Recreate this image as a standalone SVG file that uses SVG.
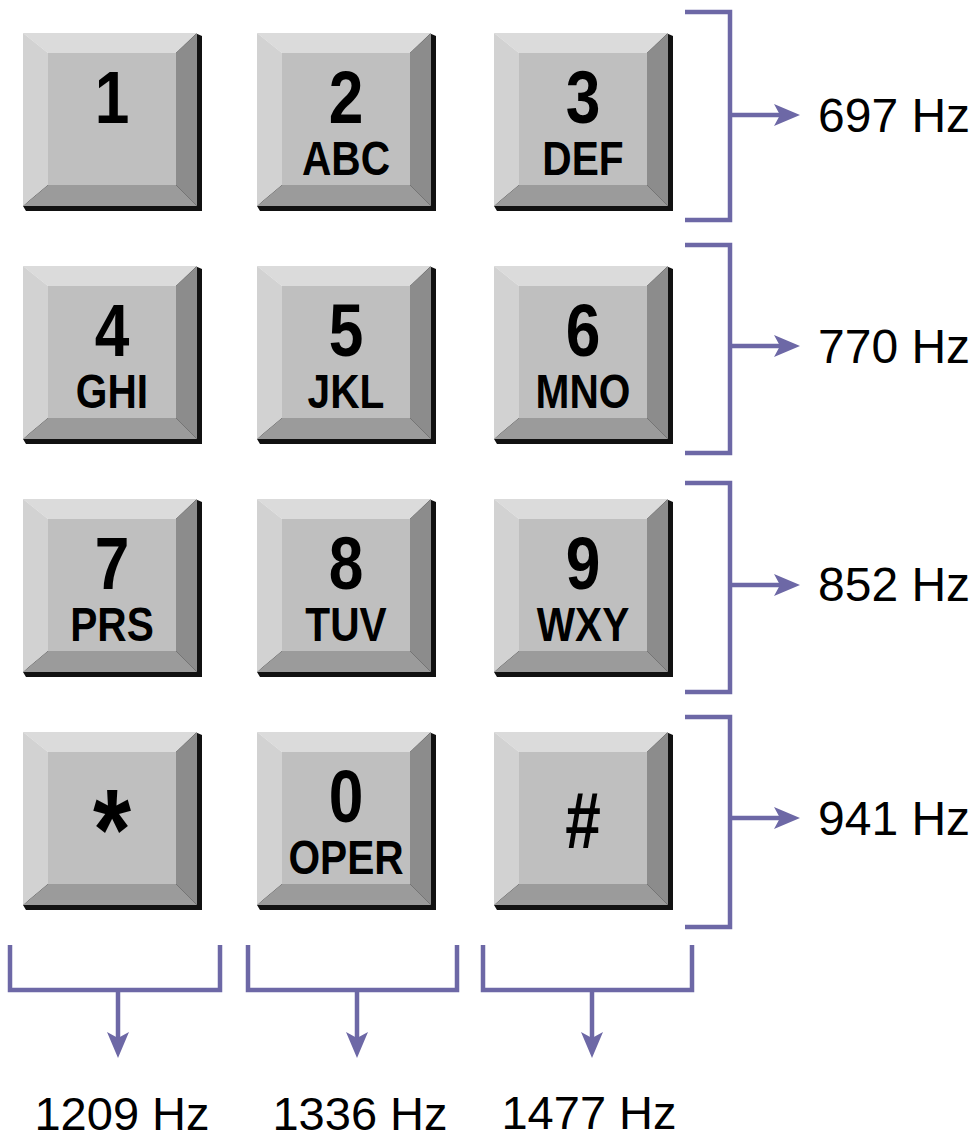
<svg xmlns="http://www.w3.org/2000/svg" xmlns:xlink="http://www.w3.org/1999/xlink" width="980" height="1141" viewBox="0 0 980 1141">
<style>
.k{font-family:"Liberation Sans",Arial,sans-serif;font-weight:bold;fill:#000;text-anchor:middle}
.d{font-size:75px}
.l{font-size:49px}
.hz{font-family:"Liberation Sans",Arial,sans-serif;font-size:48px;fill:#000}
.hzb{font-family:"Liberation Sans",Arial,sans-serif;font-size:47px;fill:#000;text-anchor:middle}
.br{fill:none;stroke:#6d68a6;stroke-width:4.5;stroke-linejoin:miter}
.ar{fill:none;stroke:#6d68a6;stroke-width:4.5;marker-end:url(#ah)}
</style>
<defs>
<marker id="ah" markerUnits="userSpaceOnUse" viewBox="-12 -12 28 24" refX="0" refY="0" markerWidth="28" markerHeight="24" orient="auto">
<path d="M15,0 L-11,-11 L-5,0 L-11,11 Z" fill="#6d68a6"/>
</marker>
<g id="key">
<polygon points="172,0 179,3 179,178 3,178 0,173" fill="#111"/>
<polygon points="0,0 174,0 153,20 25,20" fill="#dbdbdb"/>
<polygon points="0,0 25,20 25,152 0,173" fill="#d2d2d2"/>
<polygon points="174,0 174,173 153,152 153,20" fill="#8c8c8c"/>
<polygon points="0,173 174,173 153,152 25,152" fill="#9b9b9b"/>
<rect x="25" y="20" width="128" height="132" fill="#bfbfbf"/>
</g>
</defs>
<rect width="980" height="1141" fill="#fff"/>

<g id="key-1"><use xlink:href="#key" x="23" y="33"/><text class="k" transform="translate(112,0) scale(0.83,1)"><tspan class="d" x="0" y="123">1</tspan></text></g>
<g id="key-2"><use xlink:href="#key" x="257" y="33"/><text class="k" transform="translate(346,0) scale(0.83,1)"><tspan class="d" x="0" y="123">2</tspan><tspan class="l" x="0" y="175">ABC</tspan></text></g>
<g id="key-3"><use xlink:href="#key" x="494" y="33"/><text class="k" transform="translate(583,0) scale(0.83,1)"><tspan class="d" x="0" y="123">3</tspan><tspan class="l" x="0" y="175">DEF</tspan></text></g>

<g id="key-4"><use xlink:href="#key" x="23" y="266"/><text class="k" transform="translate(112,0) scale(0.83,1)"><tspan class="d" x="0" y="356">4</tspan><tspan class="l" x="0" y="408">GHI</tspan></text></g>
<g id="key-5"><use xlink:href="#key" x="257" y="266"/><text class="k" transform="translate(346,0) scale(0.83,1)"><tspan class="d" x="0" y="356">5</tspan><tspan class="l" x="0" y="408">JKL</tspan></text></g>
<g id="key-6"><use xlink:href="#key" x="494" y="266"/><text class="k" transform="translate(583,0) scale(0.83,1)"><tspan class="d" x="0" y="356">6</tspan><tspan class="l" x="0" y="408">MNO</tspan></text></g>

<g id="key-7"><use xlink:href="#key" x="23" y="499"/><text class="k" transform="translate(112,0) scale(0.83,1)"><tspan class="d" x="0" y="589">7</tspan><tspan class="l" x="0" y="641">PRS</tspan></text></g>
<g id="key-8"><use xlink:href="#key" x="257" y="499"/><text class="k" transform="translate(346,0) scale(0.83,1)"><tspan class="d" x="0" y="589">8</tspan><tspan class="l" x="0" y="641">TUV</tspan></text></g>
<g id="key-9"><use xlink:href="#key" x="494" y="499"/><text class="k" transform="translate(583,0) scale(0.83,1)"><tspan class="d" x="0" y="589">9</tspan><tspan class="l" x="0" y="641">WXY</tspan></text></g>

<g id="key-star"><use xlink:href="#key" x="23" y="732"/><text class="k" style="font-size:115px" transform="translate(112,869) scale(0.85,1)">*</text></g>
<g id="key-0"><use xlink:href="#key" x="257" y="732"/><text class="k" transform="translate(346,0) scale(0.83,1)"><tspan class="d" x="0" y="822">0</tspan><tspan class="l" x="0" y="874">OPER</tspan></text></g>
<g id="key-hash"><use xlink:href="#key" x="494" y="732"/><text class="k" style="font-size:80px" transform="translate(583,848) scale(0.8,1)">#</text></g>

<g id="connectors">
<polyline class="br" points="685,12 730,12 730,220 685,220"/>
<line class="ar" x1="730" y1="115" x2="785" y2="115"/>
<polyline class="br" points="685,245 730,245 730,453 685,453"/>
<line class="ar" x1="730" y1="346" x2="785" y2="346"/>
<polyline class="br" points="685,483 730,483 730,692 685,692"/>
<line class="ar" x1="730" y1="585" x2="785" y2="585"/>
<polyline class="br" points="685,717 730,717 730,927 685,927"/>
<line class="ar" x1="730" y1="818" x2="785" y2="818"/>

<polyline class="br" points="10,945 10,990 220,990 220,945"/>
<line class="ar" x1="118" y1="990" x2="118" y2="1043"/>
<polyline class="br" points="248,945 248,990 457,990 457,945"/>
<line class="ar" x1="357" y1="990" x2="357" y2="1043"/>
<polyline class="br" points="483,945 483,990 692,990 692,945"/>
<line class="ar" x1="592" y1="990" x2="592" y2="1043"/>
</g>

<g id="labels">
<text class="hz" x="818" y="132">697 Hz</text>
<text class="hz" x="818" y="363">770 Hz</text>
<text class="hz" x="818" y="601">852 Hz</text>
<text class="hz" x="818" y="835">941 Hz</text>
<text class="hzb" x="122" y="1130">1209 Hz</text>
<text class="hzb" x="360" y="1130">1336 Hz</text>
<text class="hzb" x="589" y="1129">1477 Hz</text>
</g>
</svg>
